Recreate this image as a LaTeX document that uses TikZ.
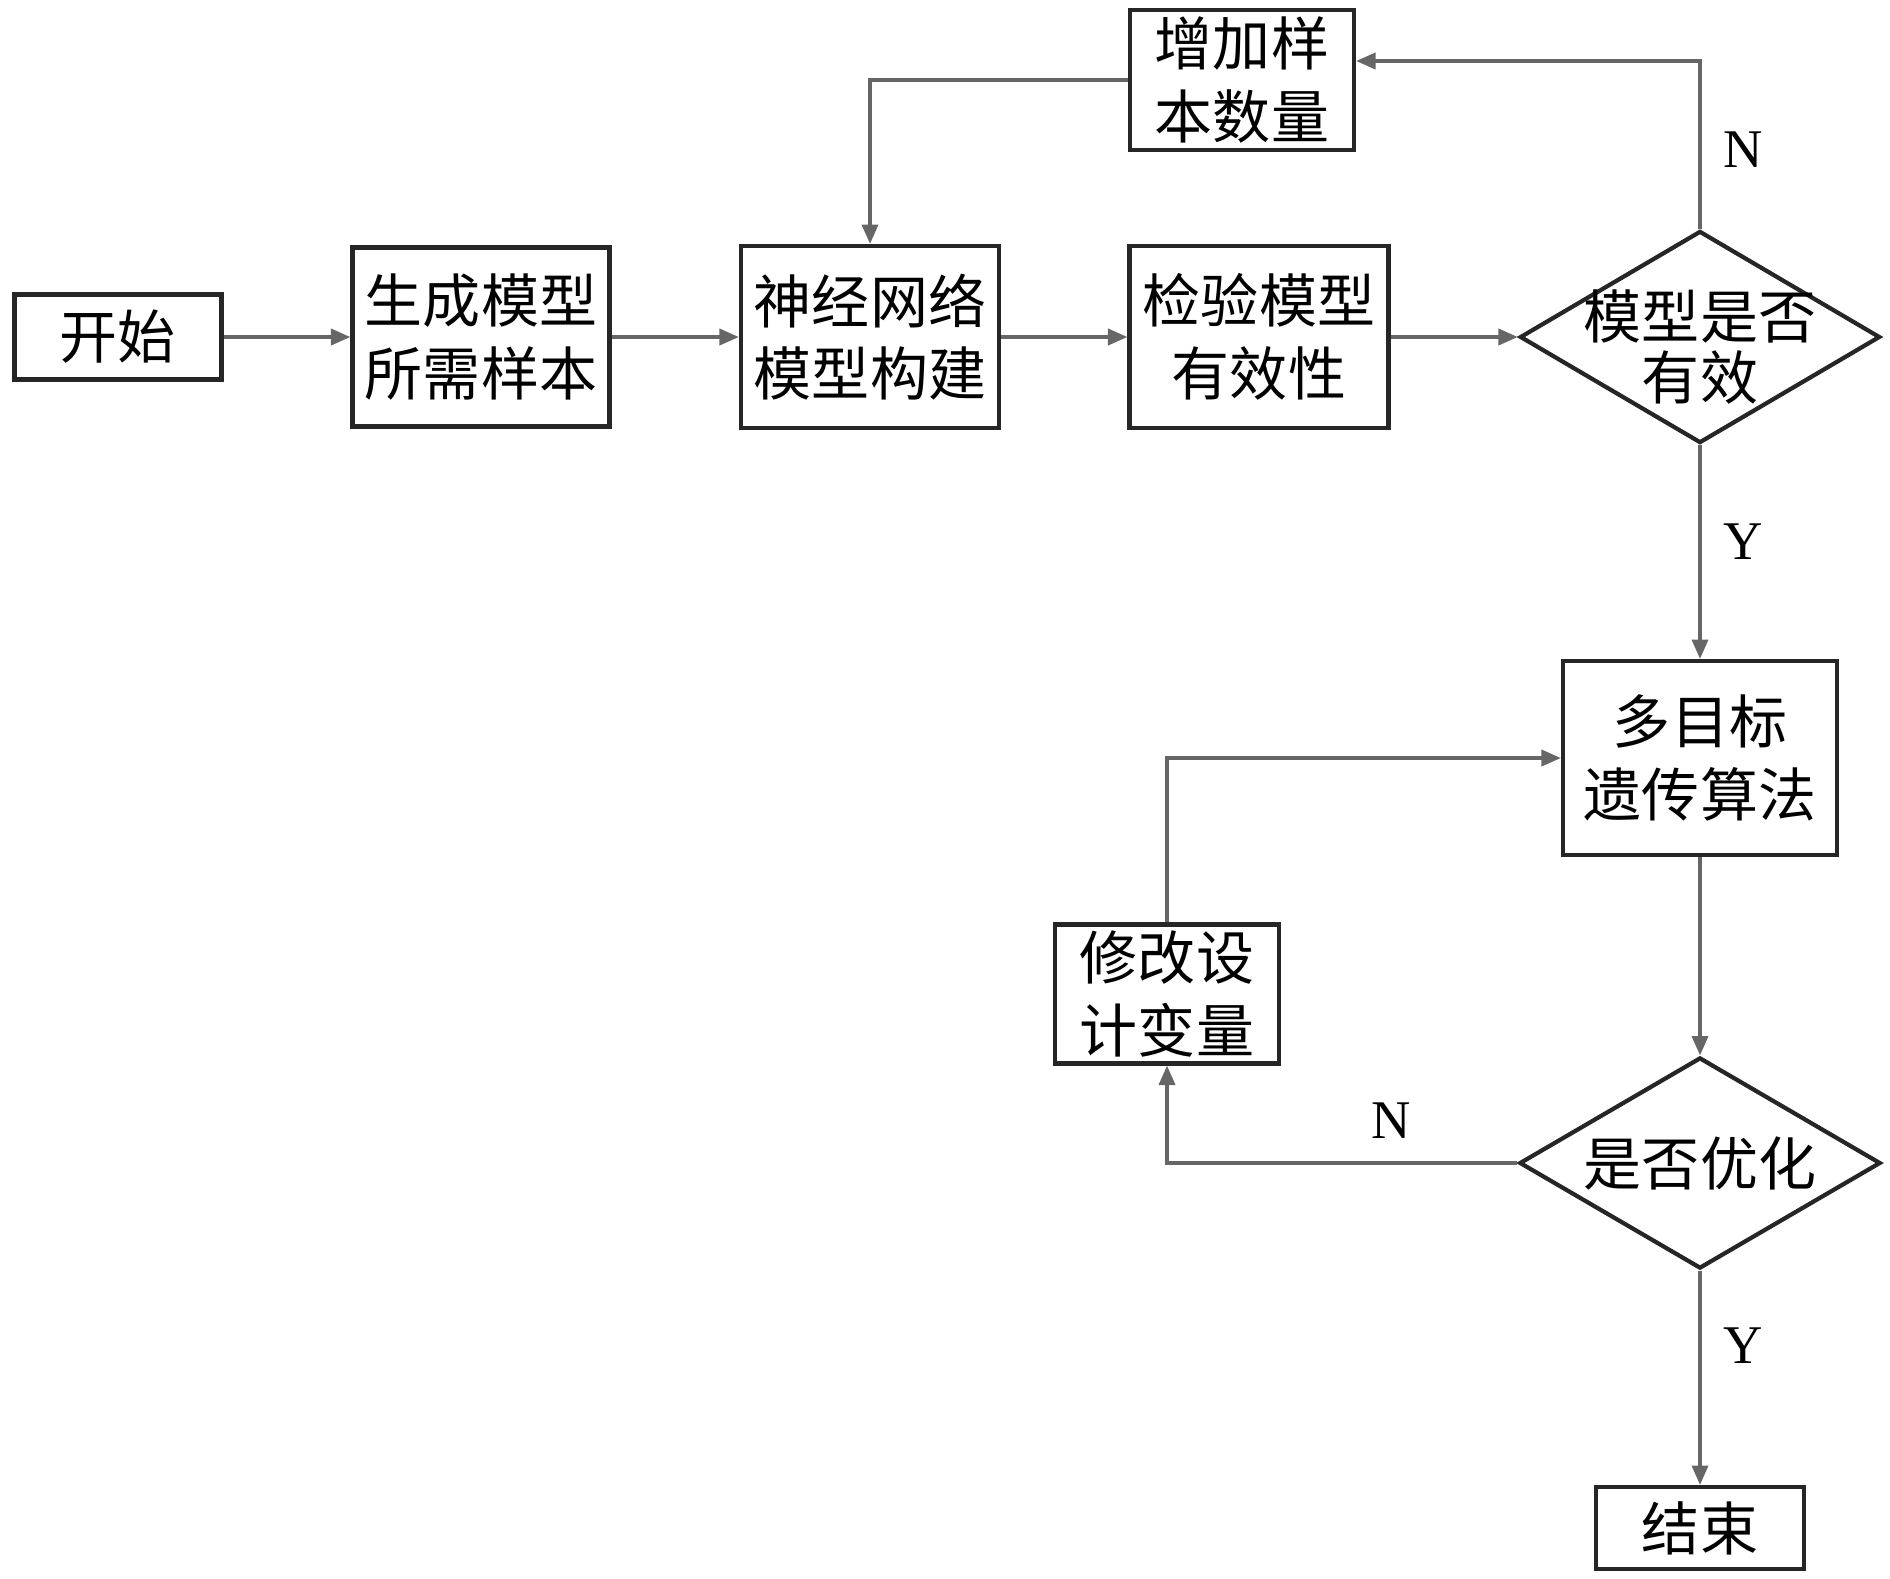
\documentclass[tikz,border=0pt]{standalone}
\usepackage{fontspec}
\setmainfont{Liberation Serif}
\newfontfamily\cjk{Noto Sans CJK SC}
\usepackage{tikz}
\usetikzlibrary{shapes.geometric}
\usetikzlibrary{arrows.meta}
\usetikzlibrary{positioning}

\tikzset{
  blk/.style={draw=black!85, line width=1.2pt, align=center, inner sep=0pt,
    font=\cjk\fontsize{16.5}{20.7}\selectfont},
  dec/.style={draw=black!85, line width=1.2pt, diamond, inner sep=0pt},
  dectxt/.style={align=center, inner sep=0pt, font=\cjk\fontsize{16.5}{17.4}\selectfont},
  arr/.style={draw=black!60, line width=0.9pt, -{Triangle[length=5.5pt,width=4.6pt]}},
  lbl/.style={font=\fontsize{15.5}{18}\selectfont, inner sep=0pt}
}

\begin{document}
\begin{tikzpicture}[x=0.01cm,y=-0.01cm]
\useasboundingbox (0,0) rectangle (1890,1578);

% main row
\node[blk, minimum width=2.07cm, minimum height=0.85cm] (start) at (118,337) {开始};
\node[blk, minimum width=2.57cm, minimum height=1.79cm] (gen) at (481,337) {生成模型\\所需样本};
\node[blk, minimum width=2.58cm, minimum height=1.82cm] (nn) at (870,337) {神经网络\\模型构建};
\node[blk, minimum width=2.59cm, minimum height=1.82cm] (chk) at (1259,337) {检验模型\\有效性};
\node[dec, minimum width=3.6cm, minimum height=2.12cm] (valid) at (1700,337) {};
\node[dectxt] (validtxt) at (1700,347) {模型是否\\有效};

% feedback boxes
\node[blk, minimum width=2.24cm, minimum height=1.40cm] (add) at (1242,80) {增加样\\本数量};
\node[blk, minimum width=2.74cm, minimum height=1.94cm] (moga) at (1700,758) {多目标\\遗传算法};
\node[blk, minimum width=2.24cm, minimum height=1.39cm] (mod) at (1167,994) {修改设\\计变量};
\node[dec, minimum width=3.61cm, minimum height=2.11cm] (opt) at (1700,1163) {};
\node[dectxt] (opttxt) at (1700,1163) {是否优化};
\node[blk, minimum width=2.08cm, minimum height=0.82cm] (stop) at (1700,1528) {结束};

\coordinate (topN) at (1700,61);

\draw[arr] (start) -- (gen);
\draw[arr] (gen) -- (nn);
\draw[arr] (nn) -- (chk);
\draw[arr] (chk) -- (valid);
\draw[arr] (valid.north) -- node[lbl, pos=0.47, xshift=0.43cm]{N} (topN) -- (topN -| add.east);
\draw[arr] (add.west) -| (nn.north);
\draw[arr] (valid.south) -- node[lbl, pos=0.45, xshift=0.43cm]{Y} (moga.north);
\draw[arr] (moga.south) -- (opt.north);
\draw[arr] (opt.west) -| node[lbl, pos=0.18, yshift=0.42cm]{N} (mod.south);
\draw[arr] (mod.north) |- (moga.west);
\draw[arr] (opt.south) -- node[lbl, pos=0.35, xshift=0.43cm]{Y} (stop.north);
\end{tikzpicture}
\end{document}
